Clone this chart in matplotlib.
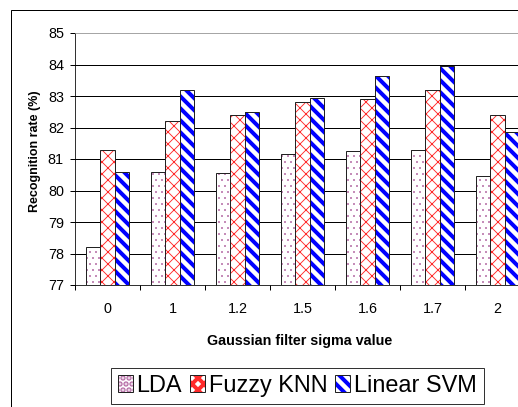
import matplotlib
matplotlib.use("Agg")
import matplotlib.pyplot as plt
import matplotlib.patches as mpatches
import numpy as np

# -----------------------------
# DATA
# -----------------------------

sigma_labels = ["0", "1", "1.2", "1.5", "1.6", "1.7", "2"]
lda = [78.2, 80.6, 80.55, 81.15, 81.25, 81.3, 80.45]
fuzzy_knn = [81.3, 82.2, 82.4, 82.8, 82.9, 83.2, 82.4]
linear_svm = [80.6, 83.2, 82.5, 82.95, 83.65, 83.95, 81.85]
series_names = ["LDA", "Fuzzy KNN", "Linear SVM"]
y_ticks = [77, 78, 79, 80, 81, 82, 83, 84, 85]

# -----------------------------
# STYLE
# -----------------------------

plt.rcParams["font.family"] = ["Liberation Sans", "DejaVu Sans"]
W, H = 518, 407
DPI = 72

fig = plt.figure(figsize=(W / DPI, H / DPI), dpi=DPI)
ax = fig.add_axes([75 / W, (H - 285) / H, 455 / W, 252 / H])

x = np.arange(len(sigma_labels))
bw = 0.223

# (pattern colour, hatch, hatch linewidth)
styles = [
    ("#b46aa4", "..", 0.7),
    ("#ff2a2a", "xx", 0.9),
    ("#0000ff", "\\\\", 4.0),
]

handles = []
for i, (vals, (col, hat, hlw)) in enumerate(zip([lda, fuzzy_knn, linear_svm], styles)):
    pos = x + (i - 1) * bw
    plt.rcParams["hatch.linewidth"] = hlw
    b1 = ax.bar(pos, np.array(vals) - 77, bw, bottom=77, color="white",
                edgecolor=col, hatch=hat, linewidth=0, zorder=2)
    for p in b1.patches:
        if hasattr(p, "set_hatch_linewidth"):
            p.set_hatch_linewidth(hlw)
    b2 = ax.bar(pos, np.array(vals) - 77, bw, bottom=77, fill=False,
                edgecolor="#222222", linewidth=1.0, zorder=3)
    handles.append((b1.patches[0], b2.patches[0]))

# -----------------------------
# AXES
# -----------------------------

ax.set_xlim(-0.5, len(sigma_labels) - 0.5)
ax.set_ylim(y_ticks[0], y_ticks[-1])
ax.set_yticks(y_ticks)
ax.set_yticklabels([str(t) for t in y_ticks], fontsize=14.4)
for t in y_ticks[1:-1]:
    ax.axhline(t, color="black", linewidth=1, zorder=1)

ax.set_xticks(x)
ax.set_xticklabels(sigma_labels, fontsize=14.4)
ax.set_xticks(np.arange(len(sigma_labels) + 1) - 0.5, minor=True)
ax.tick_params(axis="x", which="major", length=0, pad=17)
ax.tick_params(axis="x", which="minor", length=5, width=1, color="black")
ax.tick_params(axis="y", length=5, width=1, pad=6, color="black")

ax.spines["right"].set_visible(False)
ax.spines["top"].set_color("#909090")
ax.spines["left"].set_color("black")
ax.spines["bottom"].set_color("black")

fig.text(300 / W, 1 - 341 / H, "Gaussian filter sigma value",
         fontsize=14.2, fontweight="bold", ha="center", va="center")
fig.text(35 / W, 1 - 151 / H, "Recognition rate (%)", rotation=90,
         fontsize=12.5, fontweight="bold", ha="center", va="center")

# -----------------------------
# LEGEND + OUTER FRAME
# -----------------------------

leg = fig.legend(handles, series_names, loc="upper left",
                 bbox_to_anchor=(111 / W, 1 - 368 / H), borderaxespad=0,
                 ncol=3, fontsize=23.5, handlelength=0.64, handleheight=0.72,
                 handletextpad=0.15, columnspacing=0.34, borderpad=0.3,
                 fancybox=False, framealpha=1, edgecolor="#333333")
leg.get_frame().set_linewidth(1)

frame = mpatches.Rectangle((11 / W, -0.1), 2, 1.1 - 10 / H, transform=fig.transFigure,
                           fill=False, edgecolor="black", linewidth=1)
fig.patches.append(frame)

fig.savefig("out.png", dpi=DPI)
